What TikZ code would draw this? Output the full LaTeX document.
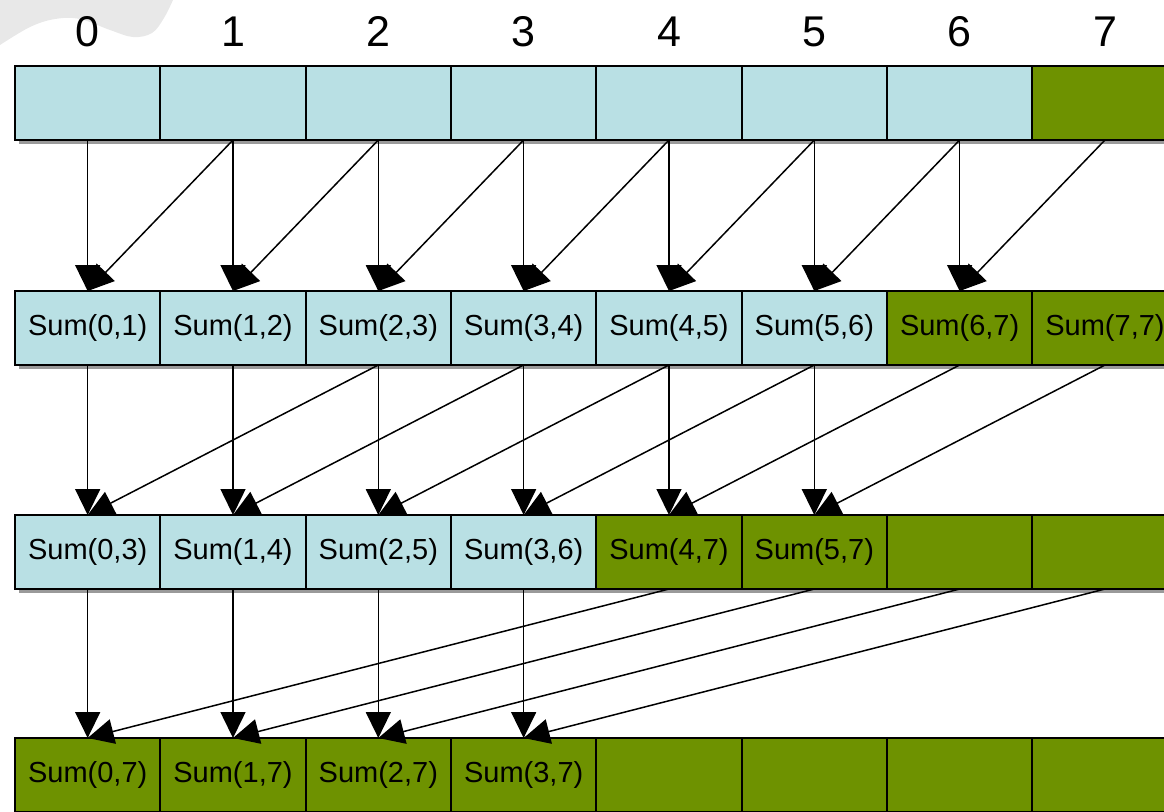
\documentclass[tikz,border=0pt]{standalone}
\usepackage{fontspec}
\setmainfont{Liberation Sans}
\usetikzlibrary{arrows.meta,shadows}
\definecolor{cellblue}{HTML}{B9E0E4}
\definecolor{cellgreen}{HTML}{6E9200}
\definecolor{shadowgray}{HTML}{9A9A9A}
\definecolor{blobgray}{HTML}{E8E8E8}
\begin{document}
\begin{tikzpicture}[x=0.5pt,y=-0.5pt,
  cell/.style={draw=black, line width=1pt, minimum width=72.665pt, minimum height=37pt,
    inner sep=0pt, outer sep=0pt, font=\fontsize{14.5}{16}\selectfont,
    general shadow={fill=shadowgray, shadow xshift=2pt, shadow yshift=-2pt}},
  bluecell/.style={cell, fill=cellblue},
  greencell/.style={cell, fill=cellgreen},
  idxlabel/.style={anchor=base, inner sep=0pt, font=\fontsize{21.5}{24}\selectfont},
  arr/.style={line width=0.75pt, -{Triangle[width=12.5pt,length=13pt]}}]
\useasboundingbox (0,0) rectangle (1164,811);
\clip (0,0) rectangle (1164,811);
% background blob
\fill[blobgray] (0,0) -- plot[smooth, tension=0.6] coordinates {(0,45) (30,27) (55,19) (80,19) (110,30) (133,37) (152,33) (164,18) (173,0)} -- cycle;
% index labels
\foreach \i in {0,...,7} {
  \node[idxlabel] (lab\i) at ({87.67+145.33*\i},46) {\i};
}
% row 1
\foreach \i in {0,...,6} {
  \node[bluecell] (r1c\i) at ({87.67+145.33*\i},103) {};
}
\node[greencell] (r1c7) at ({87.67+145.33*7},103) {};
% row 2
\foreach \i [evaluate=\i as \j using int(\i+1)] in {0,...,5} {
  \node[bluecell] (r2c\i) at ({87.67+145.33*\i},328) {Sum(\i,\j)};
}
\node[greencell] (r2c6) at ({87.67+145.33*6},328) {Sum(6,7)};
\node[greencell] (r2c7) at ({87.67+145.33*7},328) {Sum(7,7)};
% row 3
\foreach \i [evaluate=\i as \j using int(\i+3)] in {0,...,3} {
  \node[bluecell] (r3c\i) at ({87.67+145.33*\i},552) {Sum(\i,\j)};
}
\node[greencell] (r3c4) at ({87.67+145.33*4},552) {Sum(4,7)};
\node[greencell] (r3c5) at ({87.67+145.33*5},552) {Sum(5,7)};
\node[greencell] (r3c6) at ({87.67+145.33*6},552) {};
\node[greencell] (r3c7) at ({87.67+145.33*7},552) {};
% row 4
\foreach \i in {0,...,3} {
  \node[greencell] (r4c\i) at ({87.67+145.33*\i},775) {Sum(\i,7)};
}
\foreach \i in {4,...,7} {
  \node[greencell] (r4c\i) at ({87.67+145.33*\i},775) {};
}
% arrows row1 -> row2
\foreach \i [evaluate=\i as \j using int(\i+1)] in {0,...,6} {
  \draw[arr] (r1c\i.south) -- (r2c\i.north);
  \draw[arr] (r1c\j.south) -- (r2c\i.north);
}
% arrows row2 -> row3
\foreach \i [evaluate=\i as \j using int(\i+2)] in {0,...,5} {
  \draw[arr] (r2c\i.south) -- (r3c\i.north);
  \draw[arr] (r2c\j.south) -- (r3c\i.north);
}
% arrows row3 -> row4
\foreach \i [evaluate=\i as \j using int(\i+4)] in {0,...,3} {
  \draw[arr] (r3c\i.south) -- (r4c\i.north);
  \draw[arr] (r3c\j.south) -- (r4c\i.north);
}
\end{tikzpicture}
\end{document}
